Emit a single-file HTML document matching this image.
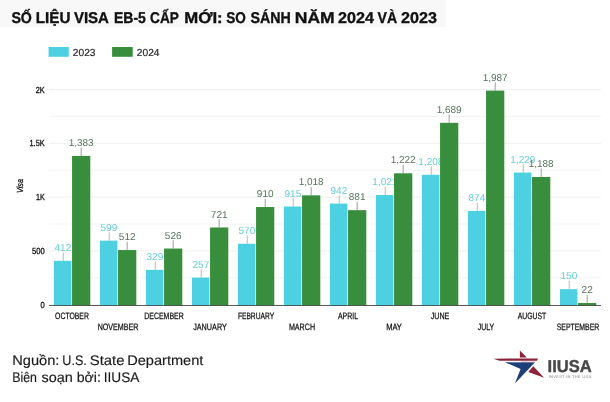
<!DOCTYPE html>
<html lang="vi">
<head>
<meta charset="utf-8">
<title>Số liệu visa EB-5 cấp mới</title>
<style>
html,body{margin:0;padding:0;background:#fff;}
body{width:610px;height:402px;overflow:hidden;position:relative;font-family:"Liberation Sans",sans-serif;}
svg{position:absolute;left:0;top:0;display:block;}
text{font-family:"Liberation Sans",sans-serif;text-rendering:geometricPrecision;}
.ttl{font-weight:bold;font-size:15.6px;fill:#111;stroke:#111;stroke-width:0.35px;}
.leg{font-size:10.2px;fill:#222;stroke:#222;stroke-width:0.15px;}
.yt{font-size:8.8px;fill:#111;stroke:#111;stroke-width:0.3px;}
.xt{font-size:9.2px;fill:#111;stroke:#111;stroke-width:0.25px;}
.v23{font-size:10px;fill:#66cdd6;}
.v24{font-size:10px;fill:#56745a;}
.ft{font-size:13.9px;fill:#1a1a1a;stroke:#1a1a1a;stroke-width:0.15px;}
</style>
</head>
<body>
<svg width="610" height="402" viewBox="0 0 610 402">
<rect x="0" y="0" width="610" height="402" fill="#ffffff"/>
<rect x="0" y="0" width="446" height="27" fill="#f8f8f8"/>
<g class="ttl">
<text x="11.4" y="23.4" textLength="20.5" lengthAdjust="spacingAndGlyphs">SỐ</text>
<text x="35.8" y="23.4" textLength="34.6" lengthAdjust="spacingAndGlyphs">LIỆU</text>
<text x="73.9" y="23.4" textLength="35.1" lengthAdjust="spacingAndGlyphs">VISA</text>
<text x="114.0" y="23.4" textLength="31.9" lengthAdjust="spacingAndGlyphs">EB-5</text>
<text x="150.1" y="23.4" textLength="28.8" lengthAdjust="spacingAndGlyphs">CẤP</text>
<text x="184.2" y="23.4" textLength="38.5" lengthAdjust="spacingAndGlyphs">MỚI:</text>
<text x="226.2" y="23.4" textLength="19.6" lengthAdjust="spacingAndGlyphs">SO</text>
<text x="250.6" y="23.4" textLength="40.3" lengthAdjust="spacingAndGlyphs">SÁNH</text>
<text x="294.8" y="23.4" textLength="39.9" lengthAdjust="spacingAndGlyphs">NĂM</text>
<text x="338.1" y="23.4" textLength="35.9" lengthAdjust="spacingAndGlyphs">2024</text>
<text x="377.5" y="23.4" textLength="19.6" lengthAdjust="spacingAndGlyphs">VÀ</text>
<text x="401.1" y="23.4" textLength="35.9" lengthAdjust="spacingAndGlyphs">2023</text>
</g>
<rect x="48.6" y="47" width="20.2" height="9.8" fill="#4dd0e1"/>
<text class="leg" x="72.8" y="55.6">2023</text>
<rect x="112.1" y="47" width="20.6" height="9.8" fill="#388e3c"/>
<text class="leg" x="136.8" y="55.6">2024</text>
<line x1="49.0" x2="601" y1="277.80" y2="277.80" stroke="#f3f3f3" stroke-width="1"/>
<line x1="49.0" x2="601" y1="250.90" y2="250.90" stroke="#efefef" stroke-width="1"/>
<line x1="49.0" x2="601" y1="224.00" y2="224.00" stroke="#f3f3f3" stroke-width="1"/>
<line x1="49.0" x2="601" y1="197.10" y2="197.10" stroke="#efefef" stroke-width="1"/>
<line x1="49.0" x2="601" y1="170.20" y2="170.20" stroke="#f3f3f3" stroke-width="1"/>
<line x1="49.0" x2="601" y1="143.30" y2="143.30" stroke="#efefef" stroke-width="1"/>
<line x1="49.0" x2="601" y1="116.40" y2="116.40" stroke="#f3f3f3" stroke-width="1"/>
<line x1="49.0" x2="601" y1="89.50" y2="89.50" stroke="#efefef" stroke-width="1"/>
<text class="yt" x="35.7" y="92.55" textLength="9.0" lengthAdjust="spacingAndGlyphs">2K</text>
<text class="yt" x="29.5" y="146.45" textLength="15.2" lengthAdjust="spacingAndGlyphs">1.5K</text>
<text class="yt" x="35.9" y="200.35" textLength="8.8" lengthAdjust="spacingAndGlyphs">1K</text>
<text class="yt" x="32.0" y="254.25" textLength="12.7" lengthAdjust="spacingAndGlyphs">500</text>
<text class="yt" x="40.5" y="308.15" textLength="4.2" lengthAdjust="spacingAndGlyphs">0</text>
<text class="yt" font-style="italic" transform="translate(23.3,186) rotate(-90)" x="-7" y="0" textLength="14" lengthAdjust="spacingAndGlyphs">Visa</text>
<rect x="53.90" y="260.86" width="17.5" height="44.54" fill="#4dd0e1"/>
<rect x="99.90" y="240.65" width="17.5" height="64.75" fill="#4dd0e1"/>
<rect x="145.90" y="269.84" width="17.5" height="35.56" fill="#4dd0e1"/>
<rect x="191.90" y="277.62" width="17.5" height="27.78" fill="#4dd0e1"/>
<rect x="237.90" y="243.78" width="17.5" height="61.62" fill="#4dd0e1"/>
<rect x="283.90" y="206.49" width="17.5" height="98.91" fill="#4dd0e1"/>
<rect x="329.90" y="203.57" width="17.5" height="101.83" fill="#4dd0e1"/>
<rect x="375.90" y="195.03" width="17.5" height="110.37" fill="#4dd0e1"/>
<rect x="421.90" y="174.82" width="17.5" height="130.58" fill="#4dd0e1"/>
<rect x="467.90" y="210.92" width="17.5" height="94.48" fill="#4dd0e1"/>
<rect x="513.90" y="172.55" width="17.5" height="132.85" fill="#4dd0e1"/>
<rect x="559.90" y="289.19" width="17.5" height="16.21" fill="#4dd0e1"/>
<line x1="63.25" x2="63.25" y1="252.56" y2="260.86" stroke="#a9a9a9" stroke-width="0.8"/>
<text class="v23" x="62.89" y="250.96" text-anchor="middle">412</text>
<line x1="109.25" x2="109.25" y1="232.35" y2="240.65" stroke="#a9a9a9" stroke-width="0.8"/>
<text class="v23" x="108.89" y="230.75" text-anchor="middle">599</text>
<line x1="155.25" x2="155.25" y1="261.54" y2="269.84" stroke="#a9a9a9" stroke-width="0.8"/>
<text class="v23" x="154.89" y="259.94" text-anchor="middle">329</text>
<line x1="201.25" x2="201.25" y1="269.32" y2="277.62" stroke="#a9a9a9" stroke-width="0.8"/>
<text class="v23" x="200.89" y="267.72" text-anchor="middle">257</text>
<line x1="247.25" x2="247.25" y1="235.48" y2="243.78" stroke="#a9a9a9" stroke-width="0.8"/>
<text class="v23" x="246.89" y="233.88" text-anchor="middle">570</text>
<line x1="293.25" x2="293.25" y1="198.19" y2="206.49" stroke="#a9a9a9" stroke-width="0.8"/>
<text class="v23" x="292.89" y="196.59" text-anchor="middle">915</text>
<line x1="339.25" x2="339.25" y1="195.27" y2="203.57" stroke="#a9a9a9" stroke-width="0.8"/>
<text class="v23" x="338.89" y="193.67" text-anchor="middle">942</text>
<line x1="385.25" x2="385.25" y1="186.73" y2="195.03" stroke="#a9a9a9" stroke-width="0.8"/>
<text class="v23" x="384.89" y="185.13" text-anchor="middle">1,021</text>
<line x1="431.25" x2="431.25" y1="166.52" y2="174.82" stroke="#a9a9a9" stroke-width="0.8"/>
<text class="v23" x="430.89" y="164.92" text-anchor="middle">1,208</text>
<line x1="477.25" x2="477.25" y1="202.62" y2="210.92" stroke="#a9a9a9" stroke-width="0.8"/>
<text class="v23" x="476.89" y="201.02" text-anchor="middle">874</text>
<line x1="523.25" x2="523.25" y1="164.25" y2="172.55" stroke="#a9a9a9" stroke-width="0.8"/>
<text class="v23" x="522.89" y="162.65" text-anchor="middle">1,229</text>
<line x1="569.25" x2="569.25" y1="280.88" y2="289.19" stroke="#a9a9a9" stroke-width="0.8"/>
<text class="v23" x="568.89" y="279.29" text-anchor="middle">150</text>
<rect x="72.05" y="155.90" width="18.25" height="149.50" fill="#388e3c"/>
<rect x="118.05" y="250.05" width="18.25" height="55.35" fill="#388e3c"/>
<rect x="164.05" y="248.54" width="18.25" height="56.86" fill="#388e3c"/>
<rect x="210.05" y="227.46" width="18.25" height="77.94" fill="#388e3c"/>
<rect x="256.05" y="207.03" width="18.25" height="98.37" fill="#388e3c"/>
<rect x="302.05" y="195.35" width="18.25" height="110.05" fill="#388e3c"/>
<rect x="348.05" y="210.16" width="18.25" height="95.24" fill="#388e3c"/>
<rect x="394.05" y="173.30" width="18.25" height="132.10" fill="#388e3c"/>
<rect x="440.05" y="122.82" width="18.25" height="182.58" fill="#388e3c"/>
<rect x="486.05" y="90.61" width="18.25" height="214.79" fill="#388e3c"/>
<rect x="532.05" y="176.98" width="18.25" height="128.42" fill="#388e3c"/>
<rect x="578.05" y="303.02" width="18.25" height="2.38" fill="#388e3c"/>
<line x1="81.17" x2="81.17" y1="147.60" y2="155.90" stroke="#858585" stroke-width="0.8"/>
<text class="v24" x="81.17" y="146.00" text-anchor="middle">1,383</text>
<line x1="127.18" x2="127.18" y1="241.75" y2="250.05" stroke="#858585" stroke-width="0.8"/>
<text class="v24" x="127.18" y="240.15" text-anchor="middle">512</text>
<line x1="173.18" x2="173.18" y1="240.24" y2="248.54" stroke="#858585" stroke-width="0.8"/>
<text class="v24" x="173.18" y="238.64" text-anchor="middle">526</text>
<line x1="219.18" x2="219.18" y1="219.16" y2="227.46" stroke="#858585" stroke-width="0.8"/>
<text class="v24" x="219.18" y="217.56" text-anchor="middle">721</text>
<line x1="265.18" x2="265.18" y1="198.73" y2="207.03" stroke="#858585" stroke-width="0.8"/>
<text class="v24" x="265.18" y="197.13" text-anchor="middle">910</text>
<line x1="311.17" x2="311.17" y1="187.05" y2="195.35" stroke="#858585" stroke-width="0.8"/>
<text class="v24" x="311.17" y="185.45" text-anchor="middle">1,018</text>
<line x1="357.17" x2="357.17" y1="201.86" y2="210.16" stroke="#858585" stroke-width="0.8"/>
<text class="v24" x="357.17" y="200.26" text-anchor="middle">881</text>
<line x1="403.17" x2="403.17" y1="165.00" y2="173.30" stroke="#858585" stroke-width="0.8"/>
<text class="v24" x="403.17" y="163.40" text-anchor="middle">1,222</text>
<line x1="449.17" x2="449.17" y1="114.52" y2="122.82" stroke="#858585" stroke-width="0.8"/>
<text class="v24" x="449.17" y="112.92" text-anchor="middle">1,689</text>
<line x1="495.17" x2="495.17" y1="82.31" y2="90.61" stroke="#858585" stroke-width="0.8"/>
<text class="v24" x="495.17" y="80.71" text-anchor="middle">1,987</text>
<line x1="541.17" x2="541.17" y1="168.68" y2="176.98" stroke="#858585" stroke-width="0.8"/>
<text class="v24" x="541.17" y="167.08" text-anchor="middle">1,188</text>
<line x1="587.17" x2="587.17" y1="294.72" y2="303.02" stroke="#858585" stroke-width="0.8"/>
<text class="v24" x="587.17" y="293.12" text-anchor="middle">22</text>
<line x1="49.0" x2="601" y1="305.5" y2="305.5" stroke="#333" stroke-width="0.8"/>
<text class="xt" x="55.10" y="318.9" textLength="33.8" lengthAdjust="spacingAndGlyphs">OCTOBER</text>
<text class="xt" x="97.65" y="330.2" textLength="40.7" lengthAdjust="spacingAndGlyphs">NOVEMBER</text>
<text class="xt" x="144.30" y="318.9" textLength="39.4" lengthAdjust="spacingAndGlyphs">DECEMBER</text>
<text class="xt" x="193.20" y="330.2" textLength="33.6" lengthAdjust="spacingAndGlyphs">JANUARY</text>
<text class="xt" x="237.90" y="318.9" textLength="36.2" lengthAdjust="spacingAndGlyphs">FEBRUARY</text>
<text class="xt" x="288.90" y="330.2" textLength="26.2" lengthAdjust="spacingAndGlyphs">MARCH</text>
<text class="xt" x="337.90" y="318.9" textLength="20.2" lengthAdjust="spacingAndGlyphs">APRIL</text>
<text class="xt" x="386.15" y="330.2" textLength="15.7" lengthAdjust="spacingAndGlyphs">MAY</text>
<text class="xt" x="430.70" y="318.9" textLength="18.6" lengthAdjust="spacingAndGlyphs">JUNE</text>
<text class="xt" x="477.75" y="330.2" textLength="16.5" lengthAdjust="spacingAndGlyphs">JULY</text>
<text class="xt" x="517.70" y="318.9" textLength="28.6" lengthAdjust="spacingAndGlyphs">AUGUST</text>
<text class="xt" x="556.65" y="330.2" textLength="42.7" lengthAdjust="spacingAndGlyphs">SEPTEMBER</text>
<g class="ft">
<text x="12.2" y="364.5" textLength="47.2" lengthAdjust="spacingAndGlyphs">Nguồn:</text>
<text x="62.3" y="364.5" textLength="24.5" lengthAdjust="spacingAndGlyphs">U.S.</text>
<text x="89.7" y="364.5" textLength="34.8" lengthAdjust="spacingAndGlyphs">State</text>
<text x="127.2" y="364.5" textLength="76.2" lengthAdjust="spacingAndGlyphs">Department</text>
<text x="12.2" y="381.6" textLength="24.7" lengthAdjust="spacingAndGlyphs">Biên</text>
<text x="41.6" y="381.6" textLength="31.3" lengthAdjust="spacingAndGlyphs">soạn</text>
<text x="76.7" y="381.6" textLength="24.2" lengthAdjust="spacingAndGlyphs">bởi:</text>
<text x="103.8" y="381.6" textLength="35.6" lengthAdjust="spacingAndGlyphs">IIUSA</text>
</g>
<g>
<polygon points="519.9,350.6 526.8,357.6 519.9,357.6" fill="#8a2239"/>
<polygon points="493.4,358.7 538,358.4 537,360.8 499.5,360.8" fill="#8a2239"/>
<polygon points="521,361.7 535.2,361.7 534.8,362.5 521,362.5" fill="#b36a7a"/>
<polygon points="504.8,362.2 534.8,362.4 514.9,383.4 520.6,369.1" fill="#1f3f7a"/>
<polygon points="533.3,366.3 544.2,377.8 528.3,371.9" fill="#8a2239"/>
<text x="547.6" y="371.5" font-weight="bold" font-size="17.2" fill="#48484a" stroke="#48484a" stroke-width="0.4" textLength="44.2" lengthAdjust="spacingAndGlyphs">IIUSA</text>
<text x="548.7" y="377.8" font-size="4" fill="#808084" textLength="42.4" lengthAdjust="spacing">INVEST IN THE USA</text>
</g>
</svg>
</body>
</html>
